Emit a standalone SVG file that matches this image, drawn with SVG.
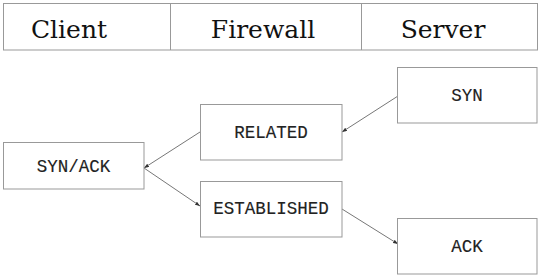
<svg xmlns="http://www.w3.org/2000/svg" width="541" height="276" viewBox="0 0 541 276">
<defs>
<style>
.box{fill:#fff;stroke:#999;stroke-width:1}
.hdr{font-family:"DejaVu Serif","Liberation Serif",serif;font-size:25px;fill:#111;text-anchor:middle}
.lbl{font-family:"Liberation Mono","Courier New",monospace;font-size:17.5px;fill:#222;stroke:#222;stroke-width:0.15;text-anchor:middle}
.con{stroke:#777;stroke-width:1;fill:none;marker-end:url(#ah)}
</style>
<marker id="ah" viewBox="0 0 8 6" refX="8" refY="3" markerWidth="5" markerHeight="4" orient="auto" markerUnits="userSpaceOnUse">
<path d="M0,0 L8,3 L0,6 z" fill="#333"/>
</marker>
</defs>
<rect width="541" height="276" fill="#fff"/>
<g id="header">
<rect class="box" x="3.5" y="3.5" width="534" height="46.5"/>
<line x1="170.5" y1="3.5" x2="170.5" y2="50" stroke="#999"/>
<line x1="361.5" y1="3.5" x2="361.5" y2="50" stroke="#999"/>
<text class="hdr" x="69" y="38">Client</text>
<text class="hdr" x="263" y="38">Firewall</text>
<text class="hdr" x="443" y="38">Server</text>
</g>
<g id="connectors">
<line class="con" x1="398" y1="96" x2="342" y2="132"/>
<line class="con" x1="200" y1="132" x2="144" y2="168"/>
<line class="con" x1="144" y1="168" x2="200" y2="206"/>
<line class="con" x1="342" y1="209" x2="398" y2="244"/>
</g>
<g id="synack">
<rect class="box" x="3.5" y="142.5" width="140.5" height="46.5"/>
<text class="lbl" x="73.5" y="172">SYN/ACK</text>
</g>
<g id="related">
<rect class="box" x="200.5" y="104.5" width="141.5" height="55.5"/>
<text class="lbl" x="271" y="138">RELATED</text>
</g>
<g id="established">
<rect class="box" x="200.5" y="181.5" width="141.5" height="55.5"/>
<text class="lbl" x="271" y="214">ESTABLISHED</text>
</g>
<g id="syn">
<rect class="box" x="397.5" y="67.5" width="139.5" height="55.5"/>
<text class="lbl" x="467" y="101">SYN</text>
</g>
<g id="ack">
<rect class="box" x="397.5" y="218.5" width="139.5" height="55.5"/>
<text class="lbl" x="467" y="252">ACK</text>
</g>
</svg>
